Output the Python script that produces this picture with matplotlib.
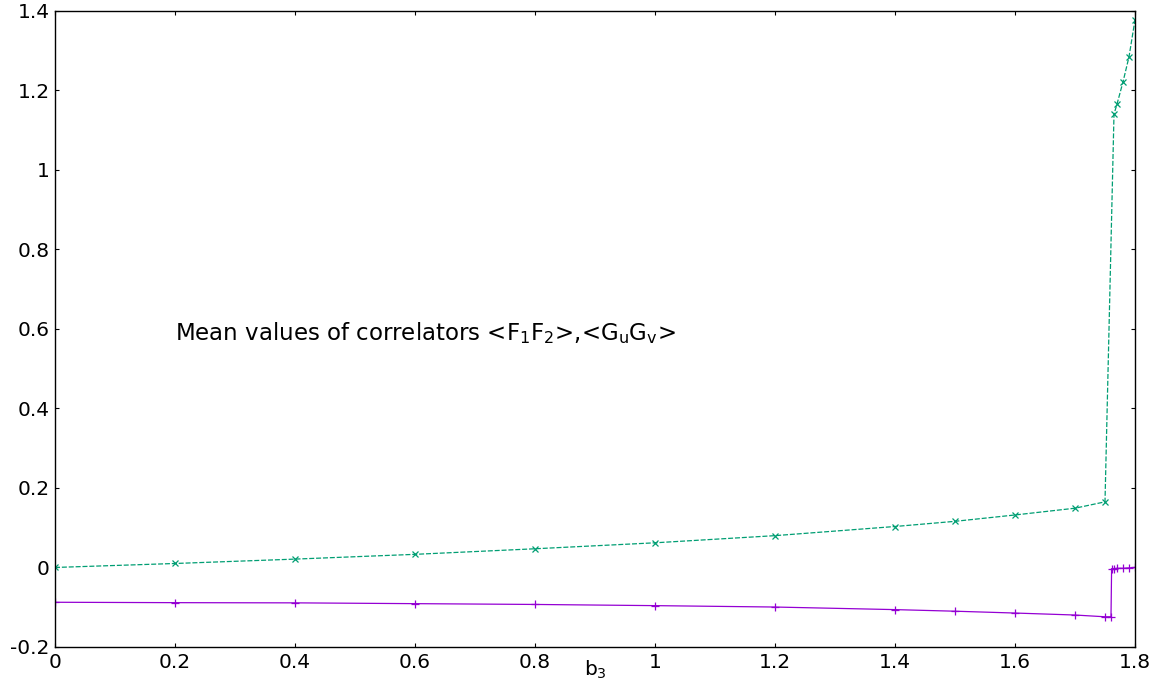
import matplotlib
matplotlib.use("Agg")
import matplotlib.pyplot as plt
from matplotlib.ticker import FuncFormatter

plt.rcParams['font.family'] = ['DejaVu Sans']
plt.rcParams['axes.unicode_minus'] = False
plt.rcParams['mathtext.fontset'] = 'dejavusans'

# <G_u G_v> correlator (green, crosses)
b3_g = [0.0, 0.2, 0.4, 0.6, 0.8, 1.0, 1.2, 1.4, 1.5, 1.6, 1.7, 1.75,
        1.765, 1.77, 1.78, 1.79, 1.8]
corr_g = [0.0, 0.010, 0.021, 0.033, 0.047, 0.062, 0.080, 0.103, 0.116,
          0.132, 0.149, 0.165, 1.140, 1.165, 1.221, 1.284, 1.377]

# <F_1 F_2> correlator (purple, plus signs)
b3_p = [0.0, 0.2, 0.4, 0.6, 0.8, 1.0, 1.2, 1.4, 1.5, 1.6, 1.7, 1.75,
        1.76, 1.761, 1.765, 1.77, 1.78, 1.79, 1.8]
corr_p = [-0.0875, -0.0885, -0.089, -0.091, -0.093, -0.096, -0.0995,
          -0.106, -0.110, -0.1146, -0.1196, -0.124, -0.124, -0.003,
          -0.003, -0.002, -0.002, -0.001, 0.0]

xticks = [0, 0.2, 0.4, 0.6, 0.8, 1.0, 1.2, 1.4, 1.6, 1.8]
yticks = [-0.2, 0, 0.2, 0.4, 0.6, 0.8, 1.0, 1.2, 1.4]

W, H = 1163, 686
fig = plt.figure(figsize=(W / 100, H / 100), dpi=100)
ax = fig.add_axes([55 / W, (H - 647) / H, (1135 - 55) / W, (647 - 10.7) / H])

ax.plot(b3_p, corr_p, color='#9400d3', lw=0.9, marker='+', ms=6, mew=0.9)
ax.plot(b3_g, corr_g, color='#009e73', lw=0.9, ls=(0, (4, 1.5)),
        marker='x', ms=4.5, mew=0.9)

ax.set_xlim(0, 1.8)
ax.set_ylim(-0.2, 1.4)
ax.set_xticks(xticks)
ax.set_yticks(yticks)
fmt = FuncFormatter(lambda v, p: '%g' % round(v, 6))
ax.xaxis.set_major_formatter(fmt)
ax.yaxis.set_major_formatter(fmt)
ax.tick_params(direction='in', top=True, right=True, length=3, width=0.8,
               labelsize=14.5, pad=4)
for s in ax.spines.values():
    s.set_linewidth(1.0)

# axis label and annotation, positioned in figure pixels from the top-left
fig.text(595 / W, (H - 670) / H, r'b$_\mathrm{3}$', fontsize=14.5,
         ha='center', va='center')
fig.text(175 / W, (H - 333) / H,
         r'Mean values of correlators <F$_\mathrm{1}$F$_\mathrm{2}$>,'
         r'<G$_\mathrm{u}$G$_\mathrm{v}$>',
         fontsize=16.5, ha='left', va='center')

fig.savefig('out.png', dpi=100)
